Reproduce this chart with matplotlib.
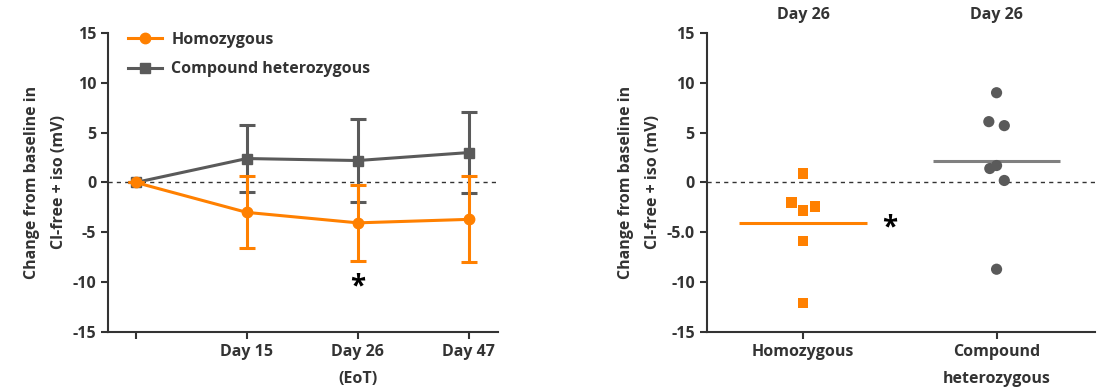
import numpy as np
import matplotlib.pyplot as plt
import matplotlib.transforms as mtransforms
from matplotlib.lines import Line2D

plt.rcParams["font.family"] = ["Open Sans", "DejaVu Sans"]
plt.rcParams["font.weight"] = "bold"
plt.rcParams["font.size"] = 11

# --- data ---
timepoints = ["", "Day 15", "Day 26\n(EoT)", "Day 47"]
homo_mean = [0.0, -3.0, -4.05, -3.7]
homo_err = [0.0, 3.6, 3.8, 4.3]
comp_mean = [0.0, 2.4, 2.2, 3.0]
comp_err = [0.0, 3.4, 4.2, 4.1]

groups = ["Homozygous", "Compound\nheterozygous"]
day26_homo = [0.9, -2.0, -2.8, -2.4, -5.9, -12.1]
day26_homo_dx = [0.0, -0.06, 0.0, 0.06, 0.0, 0.0]
day26_comp = [9.0, 6.1, 5.7, 1.4, 1.7, 0.2, -8.7]
day26_comp_dx = [0.0, -0.04, 0.04, -0.035, 0.0, 0.04, 0.0]

orange = "#FF8000"
gray = "#5A5A5A"
txt = "#333333"

fig = plt.figure(figsize=(11.04, 3.87), dpi=100)
ax1 = fig.add_axes([0.0978, 0.142, 0.353, 0.773])
ax2 = fig.add_axes([0.640, 0.142, 0.352, 0.773])

ylabel = "Change from baseline in\nCl-free + iso (mV)"

for ax in (ax1, ax2):
    ax.spines["top"].set_visible(False)
    ax.spines["right"].set_visible(False)
    for s in ("left", "bottom"):
        ax.spines[s].set_linewidth(1.5)
        ax.spines[s].set_color(txt)
    ax.tick_params(direction="out", length=5, width=1.5, color=txt, labelcolor=txt, labelsize=11.5)
    ax.set_ylim(-15, 15)
    ax.set_yticks([-15, -10, -5, 0, 5, 10, 15])
    ax.axhline(0, color="#333333", linestyle=(0, (3, 3)), linewidth=1, zorder=1)
    ax.set_ylabel(ylabel, color=txt, fontsize=11.5, fontweight="bold", labelpad=4, linespacing=1.9)

# --- left: time course ---
x = np.arange(len(timepoints))
ax1.errorbar(x, comp_mean, yerr=comp_err, color=gray, marker="s", markersize=7.5,
             linewidth=2.2, elinewidth=2.2, capsize=5.5, capthick=2.2, zorder=3)
ax1.errorbar(x, homo_mean, yerr=homo_err, color=orange, marker="o", markersize=7.5,
             linewidth=2.2, elinewidth=2.2, capsize=5.5, capthick=2.2, zorder=4)
ax1.set_xlim(-0.25, 3.26)
ax1.set_xticks(x)
ax1.set_xticklabels(timepoints, linespacing=1.9, va="top")
ax1.set_yticklabels(["-15", "-10", "-5", "0", "5", "10", "15"])
ax1.text(2, -10.5, "*", ha="center", va="center", fontsize=20, color="black")

handles = [Line2D([], [], color=orange, marker="o", markersize=7.5, linewidth=2.2),
           Line2D([], [], color=gray, marker="s", markersize=7.5, linewidth=2.2)]
leg = ax1.legend(handles, ["Homozygous", "Compound heterozygous"], loc="upper left",
                 frameon=False, bbox_to_anchor=(0.035, 1.025), handlelength=2.1,
                 handletextpad=0.6, labelspacing=0.85, fontsize=11.5, borderaxespad=0)
for t in leg.get_texts():
    t.set_color(txt)

# --- right: Day 26 scatter ---
ax2.scatter(np.array(day26_homo_dx), day26_homo, marker="s", s=55, color=orange,
            edgecolors="none", zorder=4)
ax2.scatter(1 + np.array(day26_comp_dx), day26_comp, marker="o", s=65, color=gray,
            edgecolors="none", zorder=4)
ax2.hlines(np.mean(day26_homo), -0.33, 0.33, color=orange, linewidth=2.2, zorder=3)
ax2.hlines(np.mean(day26_comp), 1 - 0.33, 1 + 0.33, color="#808080", linewidth=2.2, zorder=3)
ax2.set_xlim(-0.5, 1.51)
ax2.set_xticks([0, 1])
ax2.set_xticklabels(groups, linespacing=1.9, va="top")
ax2.set_yticklabels(["-15", "-10", "-5.0", "0", "5", "10", "15"])
ax2.text(0.445, -4.6, "*", ha="center", va="center", fontsize=20, color="black")

trans = mtransforms.blended_transform_factory(ax2.transData, fig.transFigure)
for xi in (0, 1):
    ax2.text(xi, 0.96, "Day 26", transform=trans, ha="center", va="center",
             fontsize=11.5, fontweight="bold", color=txt)

plt.savefig("out.png", dpi=100)
